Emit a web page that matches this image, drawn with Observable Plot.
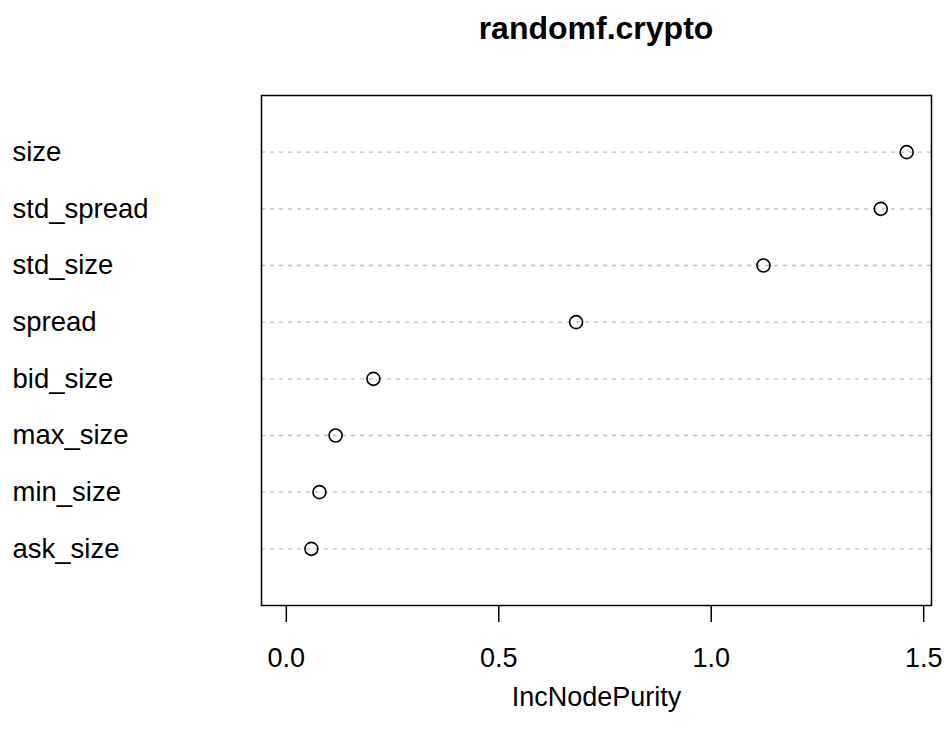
<!DOCTYPE html>
<html>
<head>
<meta charset="utf-8">
<script src="https://cdn.jsdelivr.net/npm/d3@7"></script>
<script src="https://cdn.jsdelivr.net/npm/@observablehq/plot@0.6"></script>
<style>
  html, body { margin: 0; padding: 0; background: #fff; }
  #wrap { position: relative; width: 952px; height: 744px; font-family: "Liberation Sans", Arial, Helvetica, sans-serif; }
  #title { position: absolute; left: 261px; width: 670px; top: 10px; text-align: center; font-weight: bold; font-size: 32px; color: #000; }
  #wrap svg { position: absolute; left: 0; top: 0; }
</style>
</head>
<body>
<div id="wrap"><div id="title">randomf.crypto</div></div>
<script>
// variable names, top to bottom
const variables = ["size", "std_spread", "std_size", "spread", "bid_size", "max_size", "min_size", "ask_size"];
// IncNodePurity values
const purity = [1.460, 1.399, 1.123, 0.682, 0.205, 0.116, 0.078, 0.059];
const xTicks = [0, 0.5, 1.0, 1.5];
const xLabel = "IncNodePurity";

const n = variables.length;
const data = variables.map((v, i) => ({name: v, value: purity[i], row: n - i}));
const xmax = d3.max(purity);
const pad = xmax * 0.04;

const chart = Plot.plot({
  width: 952,
  height: 744,
  marginLeft: 261,
  marginRight: 21,
  marginTop: 95,
  marginBottom: 139,
  style: {fontFamily: '"Liberation Sans", Arial, Helvetica, sans-serif', background: "transparent", color: "#000"},
  x: {domain: [0 - pad, xmax + pad]},
  y: {domain: [0, n + 1], axis: null},
  marks: [
    Plot.ruleY(data, {y: "row", stroke: "#bebebe", strokeWidth: 1.3, strokeDasharray: "4,5"}),
    Plot.dot(data, {x: "value", y: "row", r: 6.5, stroke: "#000", strokeWidth: 1.6, fill: "none"}),
    Plot.text(data, {y: "row", text: "name", frameAnchor: "left", dx: -249, textAnchor: "start", fontSize: 27.5, fill: "#000"}),
    Plot.axisX({ticks: xTicks, tickSize: 17, tickPadding: 25, tickFormat: d3.format(".1f"), fontSize: 27, strokeWidth: 1.5, label: null}),
    Plot.text([xLabel], {frameAnchor: "bottom", dy: 92, lineAnchor: "middle", fontSize: 27, fill: "#000"}),
    Plot.frame({stroke: "#000", strokeWidth: 1.5})
  ]
});
document.getElementById("wrap").appendChild(chart);
</script>
</body>
</html>
